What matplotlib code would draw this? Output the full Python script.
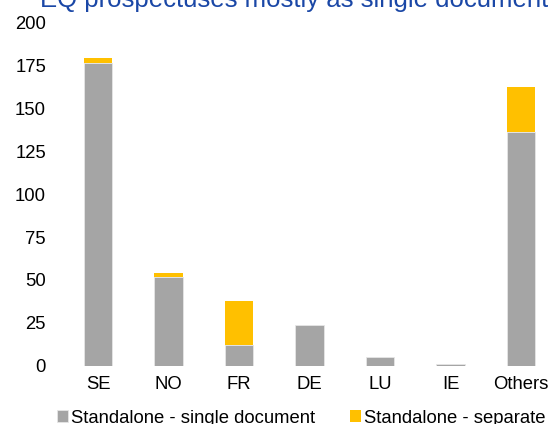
import matplotlib
matplotlib.use("Agg")
import matplotlib.pyplot as plt
import numpy as np

plt.rcParams['font.family'] = ['Liberation Sans', 'DejaVu Sans']

# data
countries = ['SE', 'NO', 'FR', 'DE', 'LU', 'IE', 'Others']
single_doc = [176, 52, 12, 24, 5, 1, 136]
separate_docs = [3, 2, 26, 0, 0, 0, 26]
title = 'EQ prospectuses mostly as single documents'

grey = '#A5A5A5'
yellow = '#FFC000'

fig = plt.figure(figsize=(5.48, 4.24), dpi=100)
ax = fig.add_axes([0.1145, 0.1368, 0.9005, 0.8113])

x = np.arange(len(countries))
ax.bar(x, single_doc, width=0.4, color=grey, edgecolor='#e6e6e6', linewidth=0.6,
       label='Standalone - single document')
ax.bar(x, separate_docs, width=0.4, bottom=single_doc, color=yellow,
       linewidth=0, label='Standalone - separate documents')

ax.set_xlim(-0.5, len(countries) - 0.5)
ax.set_ylim(0, 200)
ax.set_yticks(range(0, 201, 25))
ax.set_xticks(x)
ax.set_xticklabels(countries)
for s in ax.spines.values():
    s.set_visible(False)
ax.tick_params(axis='y', length=0, pad=12, labelsize=13.3, colors='black')
ax.tick_params(axis='x', length=0, pad=7, labelsize=13.3, colors='black')

fig.text(40 / 548, 0.9835, title, color='#1A47A6', fontsize=18.5, va='baseline', ha='left')

fig.legend(loc='lower left', bbox_to_anchor=(57 / 548, -0.006), ncol=2, frameon=False,
           fontsize=13.3, handlelength=0.6, handleheight=0.6, handletextpad=0.15,
           columnspacing=1.9, borderaxespad=0, borderpad=0)

fig.savefig('out.png', dpi=100)
